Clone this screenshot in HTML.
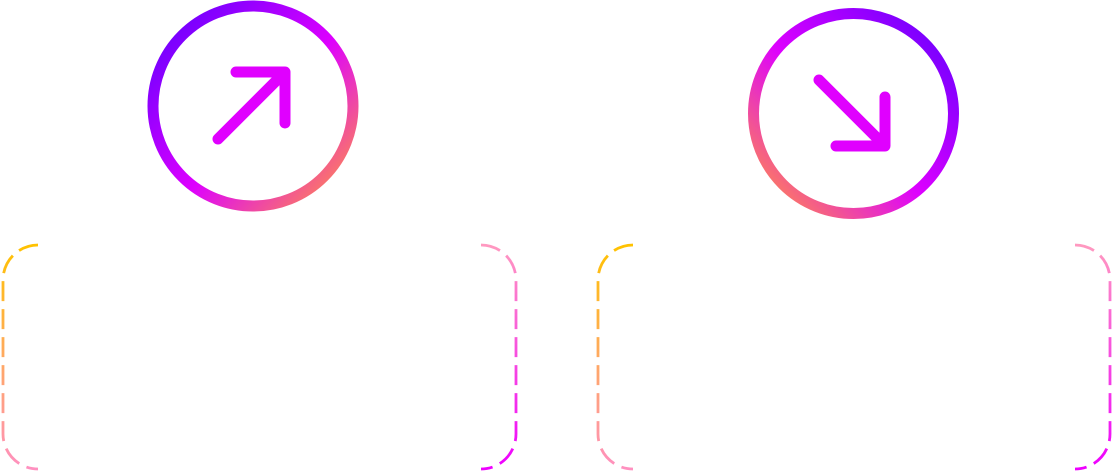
<!DOCTYPE html>
<html><head><style>html,body{margin:0;padding:0;background:#fff;width:1112px;height:472px;overflow:hidden}</style></head>
<body>
<svg width="1112" height="472" viewBox="0 0 1112 472" xmlns="http://www.w3.org/2000/svg">
<defs>
<linearGradient id="c1" gradientUnits="userSpaceOnUse" x1="175" y1="35" x2="345" y2="195">
<stop offset="0" stop-color="#7a00ff"/><stop offset="0.5" stop-color="#dd00ff"/><stop offset="1" stop-color="#ff8a50"/></linearGradient>
<linearGradient id="c2" gradientUnits="userSpaceOnUse" x1="935" y1="40" x2="765" y2="205">
<stop offset="0" stop-color="#7a00ff"/><stop offset="0.5" stop-color="#dd00ff"/><stop offset="1" stop-color="#ff8a50"/></linearGradient>
<linearGradient id="L" x1="0" y1="0" x2="0" y2="1">
<stop offset="0" stop-color="#ffc200"/><stop offset="1" stop-color="#ff90c0"/></linearGradient>
<linearGradient id="R" x1="0" y1="0" x2="0" y2="1">
<stop offset="0" stop-color="#ff99c0"/><stop offset="1" stop-color="#ee00ff"/></linearGradient>
</defs>
<circle cx="253" cy="106" r="100" fill="none" stroke="url(#c1)" stroke-width="11"/>
<g fill="none" stroke="#e000ff" stroke-width="11" stroke-linecap="round" stroke-linejoin="round">
<path d="M218 139 L285 72 M236 72 L285 72 L285 123"/>
</g>
<circle cx="853.5" cy="113.5" r="100" fill="none" stroke="url(#c2)" stroke-width="11"/>
<g fill="none" stroke="#e000ff" stroke-width="11" stroke-linecap="round" stroke-linejoin="round">
<path d="M819 80 L885 146 M885 97 L885 146 L836 146"/>
</g>
<g fill="none" stroke-width="2.8" stroke-dasharray="20 8">
<path d="M38 245 A35 35 0 0 0 3 280 L3 434 A35 35 0 0 0 38 469" stroke="url(#L)"/>
<path d="M481 245 A35 35 0 0 1 516 280 L516 434 A35 35 0 0 1 481 469" stroke="url(#R)"/>
<path d="M633 245 A35 35 0 0 0 598 280 L598 434 A35 35 0 0 0 633 469" stroke="url(#L)"/>
<path d="M1075 245 A35 35 0 0 1 1110 280 L1110 434 A35 35 0 0 1 1075 469" stroke="url(#R)"/>
</g>
</svg>
</body></html>
